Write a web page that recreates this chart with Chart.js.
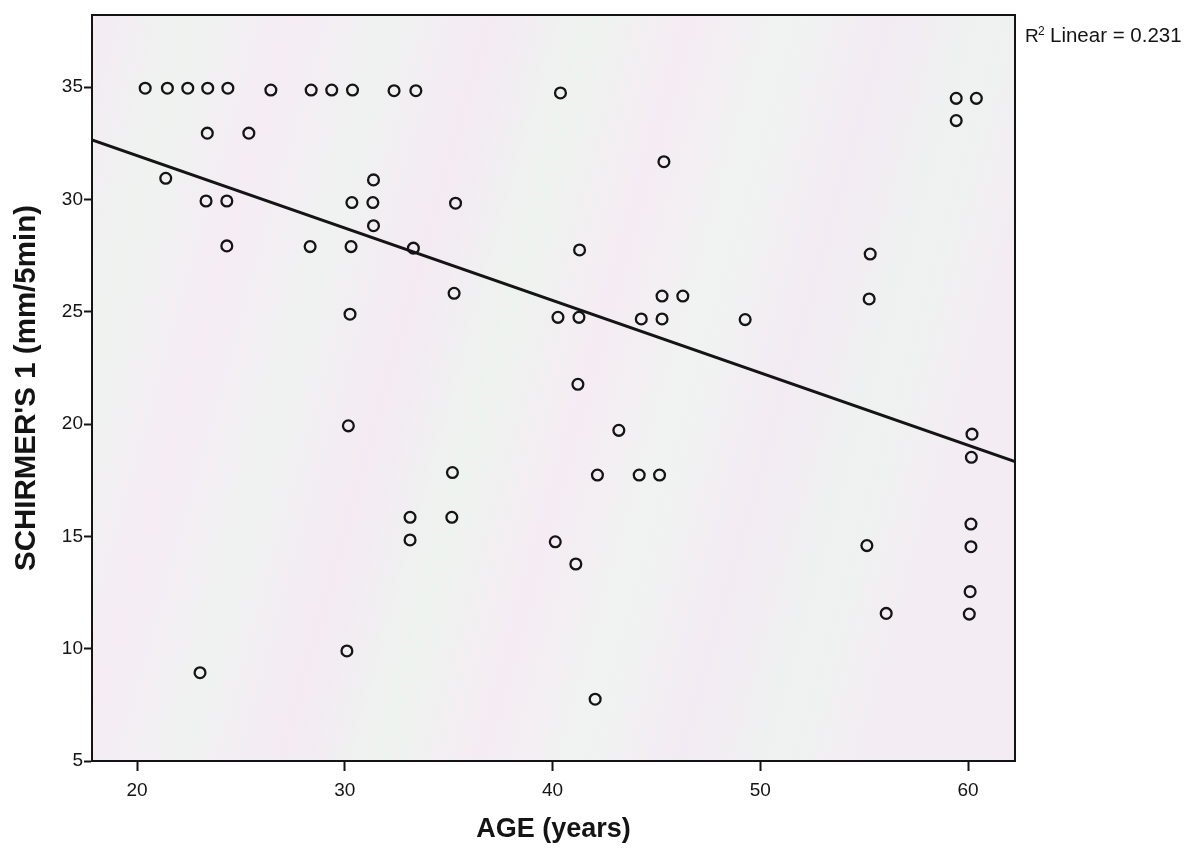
<!DOCTYPE html>
<html><head><meta charset="utf-8">
<script src="https://cdn.jsdelivr.net/npm/chart.js@4.4.1/dist/chart.umd.min.js"></script>
<style>html,body{margin:0;padding:0;background:#fff;} #wrap{width:1197px;height:848px;}</style>
</head><body><div id="wrap"><canvas id="c" width="1197" height="848"></canvas></div>
<script>
// Data
const ageYears = [20.39,21.46,22.44,23.4,24.37,26.44,28.38,29.37,30.37,32.37,33.42,40.38,
  23.38,25.38,21.38,23.32,24.32,30.34,31.35,31.38,31.38,24.32,28.33,30.3,
  45.36,35.33,33.3,41.3,35.26,45.27,46.27,40.26,41.27,44.27,45.27,49.27,
  41.22,43.19,35.18,42.16,44.17,45.15,33.14,35.15,33.14,40.13,41.12,
  30.25,30.17,23.03,30.1,42.05,
  59.43,60.4,59.43,55.29,55.24,60.19,60.16,60.14,60.14,55.13,60.1,60.06,56.06];
const schirmer1 = [34.95,34.95,34.95,34.95,34.95,34.87,34.87,34.87,34.87,34.84,34.84,34.74,
  32.95,32.95,30.94,29.93,29.93,29.86,29.86,30.87,28.83,27.93,27.9,27.9,
  31.68,29.83,27.83,27.75,25.82,25.7,25.7,24.75,24.75,24.68,24.68,24.65,
  21.77,19.72,17.84,17.73,17.73,17.73,15.85,15.85,14.84,14.76,13.77,
  24.89,19.92,8.93,9.9,7.75,
  34.5,34.5,33.51,27.57,25.57,19.55,18.52,15.55,14.54,14.59,12.54,11.54,11.57];
const fitAge = [17.83, 62.26];
const fitSchirmer = [32.65, 18.33];
const xTickValues = [20, 30, 40, 50, 60];
const yTickValues = [5, 10, 15, 20, 25, 30, 35];
const xRange = [17.83, 62.26];
const yRange = [5, 38.21];
const xTitle = "AGE (years)";
const yTitle = "SCHIRMER'S 1 (mm/5min)";
const rSqText = "Linear = 0.231";

const FONT = '"Liberation Sans", Arial, Helvetica, sans-serif';
const INK = '#141414';

const framePlugin = {
  id: 'frame',
  beforeDatasetsDraw(chart) {
    const {ctx, chartArea: a} = chart;
    ctx.save();
    const g = ctx.createLinearGradient(a.left, a.top, a.right, a.top + 260);
    const cols = ['#f4ebf3', '#eff3f0', '#f5ecf4', '#f0f2f1', '#f4eaf3', '#eef3ef', '#f5ecf3', '#f0f3f1', '#f3ebf3', '#eef2f0', '#f4ecf3'];
    cols.forEach((c, i) => g.addColorStop(i / (cols.length - 1), c));
    ctx.fillStyle = g;
    ctx.fillRect(a.left, a.top, a.right - a.left, a.bottom - a.top);
    ctx.restore();
  },
  afterDraw(chart) {
    const {ctx, chartArea: a} = chart;
    ctx.save();
    ctx.strokeStyle = INK;
    ctx.lineWidth = 2;
    ctx.strokeRect(a.left, a.top, a.right - a.left, a.bottom - a.top);
    ctx.fillStyle = INK;
    ctx.textBaseline = 'alphabetic';
    ctx.font = '19px ' + FONT;
    ctx.fillText('R', a.right + 10, 42);
    ctx.font = '12px ' + FONT;
    ctx.fillText('2', a.right + 23, 35);
    ctx.font = '20.5px ' + FONT;
    ctx.fillText(rSqText, a.right + 35, 42);
    ctx.restore();
  }
};

new Chart(document.getElementById('c'), {
  data: {
    datasets: [
      {
        type: 'scatter',
        data: ageYears.map((a, i) => ({x: a, y: schirmer1[i]})),
        pointRadius: 5.4,
        pointHoverRadius: 5.4,
        pointBorderWidth: 2.3,
        borderColor: INK,
        backgroundColor: 'rgba(0,0,0,0)',
        pointStyle: 'circle'
      },
      {
        type: 'line',
        data: fitAge.map((a, i) => ({x: a, y: fitSchirmer[i]})),
        borderColor: INK,
        borderWidth: 2.8,
        pointRadius: 0,
        fill: false,
        tension: 0
      }
    ]
  },
  options: {
    responsive: false,
    animation: false,
    devicePixelRatio: 1,
    layout: {padding: {left: 0, right: 182, top: 15, bottom: 0}},
    plugins: {legend: {display: false}, tooltip: {enabled: false}},
    scales: {
      x: {
        type: 'linear',
        min: xRange[0], max: xRange[1],
        afterBuildTicks: s => { s.ticks = xTickValues.map(v => ({value: v})); },
        afterFit: s => { s.height = 87; },
        grid: {display: true, drawOnChartArea: false, drawTicks: true, tickLength: 10, tickColor: INK, tickWidth: 2},
        border: {display: true, color: INK, width: 2},
        ticks: {color: INK, font: {family: FONT, size: 19}, padding: 8, maxRotation: 0},
        title: {display: true, text: xTitle, color: INK, font: {family: FONT, size: 27, weight: 'bold'}, padding: {top: 0, bottom: 2}}
      },
      y: {
        type: 'linear',
        min: yRange[0], max: yRange[1],
        afterBuildTicks: s => { s.ticks = yTickValues.map(v => ({value: v})); },
        afterFit: s => { s.width = 92; },
        grid: {display: true, drawOnChartArea: false, drawTicks: true, tickLength: 8, tickColor: INK, tickWidth: 2},
        border: {display: true, color: INK, width: 2},
        ticks: {color: INK, font: {family: FONT, size: 19}, padding: 1},
        title: {display: true, text: yTitle, color: INK, font: {family: FONT, size: 29.5, weight: 'bold'}, padding: {top: 9, bottom: 0}}
      }
    }
  },
  plugins: [framePlugin]
});
</script>
</body></html>
